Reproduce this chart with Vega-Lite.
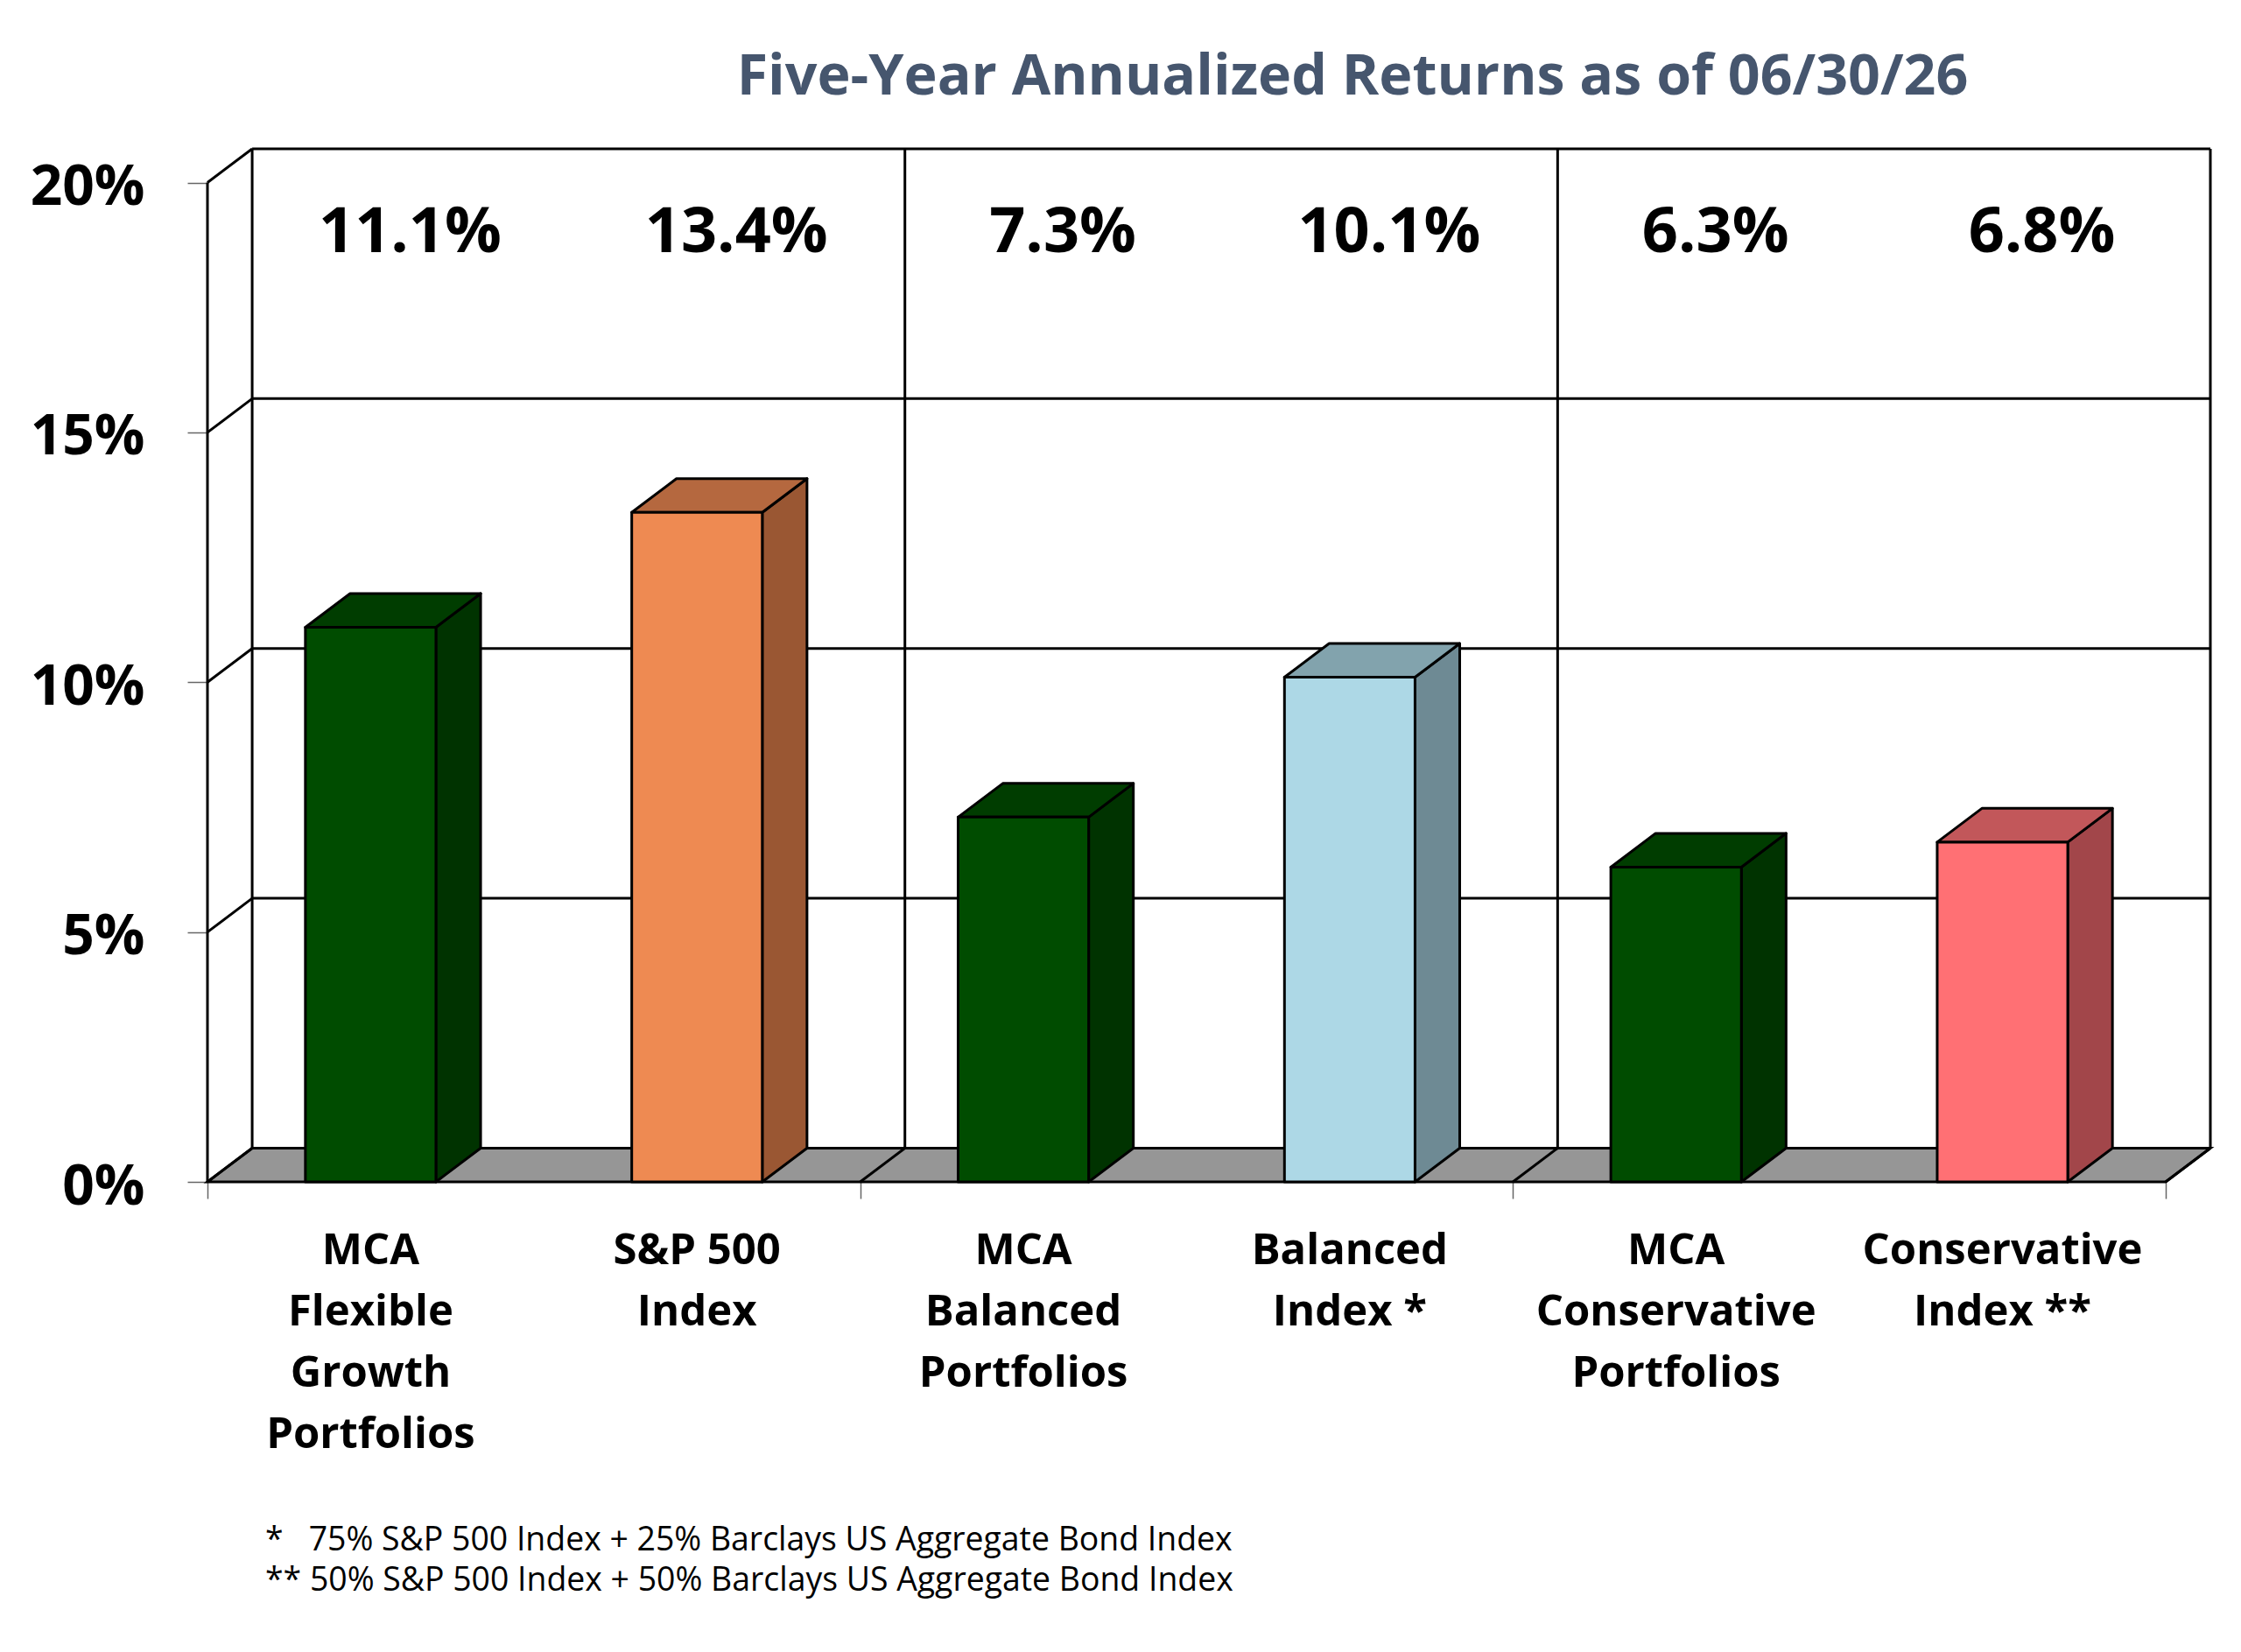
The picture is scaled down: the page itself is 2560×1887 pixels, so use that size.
{
  "$schema": "https://vega.github.io/schema/vega-lite/v6.json",
  "autosize": {"type": "none"},
  "padding": {"left": 237, "top": 170, "right": 35, "bottom": 537},
  "width": 2288,
  "height": 1180,
  "background": "white",
  "title": {
    "text": "Five-Year Annualized Returns as of 06/30/26",
    "font": "Open Sans",
    "fontSize": 64.5,
    "fontWeight": "bold",
    "color": "#46566e",
    "anchor": "middle",
    "frame": "group",
    "dx": 164,
    "offset": 47
  },
  "data": {
    "values": [
      {"name": "MCA\nFlexible\nGrowth\nPortfolios", "value": 11.1},
      {"name": "S&P 500\nIndex", "value": 13.4},
      {"name": "MCA\nBalanced\nPortfolios", "value": 7.3},
      {"name": "Balanced\nIndex *", "value": 10.1},
      {"name": "MCA\nConservative\nPortfolios", "value": 6.3},
      {"name": "Conservative\nIndex **", "value": 6.8}
    ]
  },
  "resolve": {
    "scale": {"fill": "independent"},
    "axis": {"x": "independent", "y": "independent"}
  },
  "layer": [
    {
      "transform": [
        {"aggregate": [{"op": "count", "as": "n"}]},
        {"calculate": "0", "as": "front"},
        {"calculate": "0.675", "as": "back"},
        {"fold": ["front", "back"], "as": ["edge", "fy"]},
        {"calculate": "datum.edge == 'front' ? 0 : 0.137", "as": "fx"},
        {"calculate": "datum.fx + datum.n", "as": "fx2"}
      ],
      "mark": {"type": "area", "orient": "horizontal", "fill": "#969696", "stroke": "black", "strokeWidth": 3},
      "encoding": {
        "y": {
          "field": "fy", "type": "quantitative",
          "scale": {"domain": [0, 20.675], "nice": false, "zero": false},
          "axis": null
        },
        "x": {
          "field": "fx", "type": "quantitative",
          "scale": {"domain": [0, 6.137], "nice": false, "zero": false},
          "axis": null
        },
        "x2": {"field": "fx2"}
      }
    },
    {
      "data": {"values": [{"v": 0}, {"v": 5}, {"v": 10}, {"v": 15}, {"v": 20}]},
      "transform": [{"calculate": "datum.v + 0.675", "as": "vb"}],
      "mark": {"type": "rule", "color": "black", "strokeWidth": 3},
      "encoding": {
        "y": {"field": "vb", "type": "quantitative", "axis": null},
        "x": {"datum": 0.137, "axis": null},
        "x2": {"datum": 6.137}
      }
    },
    {
      "data": {"values": [{"v": 0}, {"v": 5}, {"v": 10}, {"v": 15}, {"v": 20}]},
      "transform": [{"calculate": "datum.v + 0.675", "as": "vb"}],
      "mark": {"type": "rule", "color": "black", "strokeWidth": 3},
      "encoding": {
        "y": {"field": "v", "type": "quantitative", "axis": null},
        "y2": {"field": "vb"},
        "x": {"datum": 0, "axis": null},
        "x2": {"datum": 0.137}
      }
    },
    {
      "transform": [
        {"window": [{"op": "row_number", "as": "idx"}]},
        {"filter": "datum.idx % 2 == 0"},
        {"calculate": "datum.idx + 0.137", "as": "bx"}
      ],
      "mark": {"type": "rule", "color": "black", "strokeWidth": 3},
      "encoding": {
        "x": {"field": "bx", "type": "quantitative", "axis": null},
        "y": {"datum": 0.675, "axis": null},
        "y2": {"datum": 20.675}
      }
    },
    {
      "transform": [
        {"window": [{"op": "row_number", "as": "idx"}]},
        {"filter": "datum.idx % 2 == 0"},
        {"calculate": "datum.idx + 0.137", "as": "bx"}
      ],
      "mark": {"type": "rule", "color": "black", "strokeWidth": 3},
      "encoding": {
        "x": {"field": "idx", "type": "quantitative", "axis": null},
        "x2": {"field": "bx"},
        "y": {"datum": 0, "axis": null},
        "y2": {"datum": 0.675}
      }
    },
    {
      "data": {"values": [{}]},
      "mark": {"type": "rule", "color": "black", "strokeWidth": 3},
      "encoding": {
        "x": {"datum": 0.137, "axis": null},
        "y": {"datum": 0.675, "axis": null},
        "y2": {"datum": 20.675}
      }
    },
    {
      "data": {"values": [{}]},
      "mark": {"type": "rule", "color": "black", "strokeWidth": 3},
      "encoding": {
        "x": {"datum": 0, "axis": null},
        "y": {"datum": 0, "axis": null},
        "y2": {"datum": 20}
      }
    },
    {
      "transform": [
        {"window": [{"op": "row_number", "as": "idx"}]},
        {"calculate": "datum.idx - 0.3", "as": "s0"},
        {"calculate": "datum.idx - 0.3 + 0.137", "as": "s1"},
        {"fold": ["s0", "s1"], "as": ["corner", "sx"]},
        {"calculate": "datum.corner == 's0' ? datum.value : datum.value + 0.675", "as": "sy"},
        {"calculate": "datum.corner == 's0' ? 0 : 0.675", "as": "sy2"}
      ],
      "mark": {"type": "area", "orient": "vertical", "stroke": "black", "strokeWidth": 3, "strokeJoin": "round", "fillOpacity": 1},
      "encoding": {
        "x": {"field": "sx", "type": "quantitative", "axis": null},
        "y": {"field": "sy", "type": "quantitative", "stack": null, "axis": null},
        "y2": {"field": "sy2"},
        "detail": {"field": "name"},
        "fill": {
          "field": "name", "type": "nominal", "legend": null,
          "scale": {
            "domain": ["MCA\nFlexible\nGrowth\nPortfolios", "S&P 500\nIndex", "MCA\nBalanced\nPortfolios", "Balanced\nIndex *", "MCA\nConservative\nPortfolios", "Conservative\nIndex **"],
            "range": ["#003300", "#9a5733", "#003300", "#6e8a94", "#003300", "#a2464a"]
          }
        }
      }
    },
    {
      "transform": [
        {"window": [{"op": "row_number", "as": "idx"}]},
        {"calculate": "datum.idx - 0.7", "as": "t0"},
        {"calculate": "datum.idx - 0.7 + 0.137", "as": "t1"},
        {"fold": ["t0", "t1"], "as": ["corner", "tx"]},
        {"calculate": "datum.tx + 0.4", "as": "tx2"},
        {"calculate": "datum.corner == 't0' ? datum.value : datum.value + 0.675", "as": "ty"}
      ],
      "mark": {"type": "area", "orient": "horizontal", "stroke": "black", "strokeWidth": 3, "strokeJoin": "round", "fillOpacity": 1},
      "encoding": {
        "y": {"field": "ty", "type": "quantitative", "axis": null},
        "x": {"field": "tx", "type": "quantitative", "stack": null, "axis": null},
        "x2": {"field": "tx2"},
        "detail": {"field": "name"},
        "fill": {
          "field": "name", "type": "nominal", "legend": null,
          "scale": {
            "domain": ["MCA\nFlexible\nGrowth\nPortfolios", "S&P 500\nIndex", "MCA\nBalanced\nPortfolios", "Balanced\nIndex *", "MCA\nConservative\nPortfolios", "Conservative\nIndex **"],
            "range": ["#003d00", "#b5683f", "#003d00", "#82a3ad", "#003d00", "#c2575a"]
          }
        }
      }
    },
    {
      "transform": [
        {"window": [{"op": "row_number", "as": "idx"}]},
        {"calculate": "datum.idx - 0.7", "as": "xl"},
        {"calculate": "datum.idx - 0.3", "as": "xr"}
      ],
      "mark": {"type": "rect", "stroke": "black", "strokeWidth": 3, "strokeJoin": "round"},
      "encoding": {
        "x": {
          "field": "xl", "type": "quantitative",
          "axis": {
            "orient": "bottom",
            "values": [0, 2, 4, 6],
            "labels": false,
            "tickSize": 19, "tickColor": "#666666", "tickWidth": 1.5,
            "domain": false, "grid": false, "title": null
          }
        },
        "x2": {"field": "xr"},
        "y": {
          "field": "value", "type": "quantitative",
          "axis": {
            "orient": "left",
            "values": [0, 5, 10, 15, 20],
            "labelExpr": "datum.value + '%'",
            "labelFont": "Open Sans", "labelFontSize": 64, "labelFontWeight": "bold", "labelColor": "black",
            "labelPadding": 49, "labelOffset": 6,
            "tickSize": 23, "tickColor": "#666666", "tickWidth": 1.5,
            "domain": false, "grid": false, "title": null
          }
        },
        "y2": {"datum": 0},
        "fill": {
          "field": "name", "type": "nominal", "legend": null,
          "scale": {
            "domain": ["MCA\nFlexible\nGrowth\nPortfolios", "S&P 500\nIndex", "MCA\nBalanced\nPortfolios", "Balanced\nIndex *", "MCA\nConservative\nPortfolios", "Conservative\nIndex **"],
            "range": ["#004c00", "#ee8a52", "#004c00", "#add8e6", "#004c00", "#ff7074"]
          }
        }
      }
    },
    {
      "transform": [
        {"window": [{"op": "row_number", "as": "idx"}]},
        {"calculate": "datum.idx - 0.5", "as": "cx"},
        {"calculate": "format(datum.value, '.1f') + '%'", "as": "label"}
      ],
      "mark": {"type": "text", "font": "Open Sans", "fontSize": 72, "fontWeight": "bold", "color": "black", "align": "center", "baseline": "alphabetic", "dx": 45},
      "encoding": {
        "x": {"field": "cx", "type": "quantitative", "axis": null},
        "y": {"datum": 18.6, "axis": null},
        "text": {"field": "label"}
      }
    },
    {
      "transform": [
        {"window": [{"op": "row_number", "as": "idx"}]},
        {"calculate": "datum.idx - 0.5", "as": "cx"}
      ],
      "mark": {"type": "text", "font": "Open Sans", "fontSize": 49, "fontWeight": "bold", "color": "black", "align": "center", "baseline": "alphabetic", "dy": 94, "lineBreak": "\n", "lineHeight": 70},
      "encoding": {
        "x": {"field": "cx", "type": "quantitative", "axis": null},
        "y": {"datum": 0, "axis": null},
        "text": {"field": "name"}
      }
    },
    {
      "data": {"values": [{"note": "*\u00a0\u00a0 75% S&P 500 Index + 25% Barclays US Aggregate Bond Index\n** 50% S&P 500 Index + 50% Barclays US Aggregate Bond Index"}]},
      "mark": {"type": "text", "font": "Open Sans", "fontSize": 37.4, "color": "black", "align": "left", "baseline": "alphabetic", "dx": 66, "dy": 421, "lineBreak": "\n", "lineHeight": 46},
      "encoding": {
        "x": {"datum": 0, "axis": null},
        "y": {"datum": 0, "axis": null},
        "text": {"field": "note"}
      }
    }
  ],
  "config": {
    "view": {"stroke": null}
  }
}
